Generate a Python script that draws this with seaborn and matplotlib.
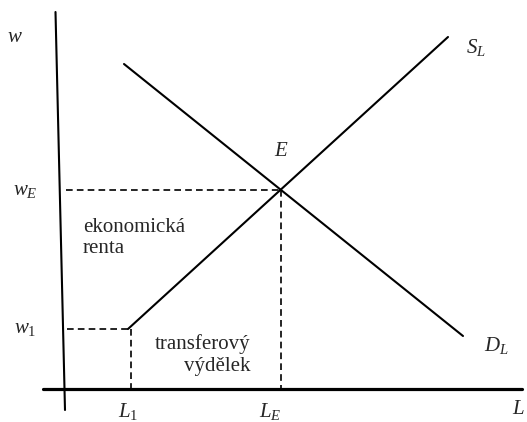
import matplotlib
matplotlib.use("Agg")
import matplotlib.pyplot as plt
import seaborn as sns

sns.set_theme(style="white")
plt.rcParams['font.family'] = ['Liberation Serif', 'DejaVu Serif']
plt.rcParams['mathtext.fontset'] = 'custom'
plt.rcParams['mathtext.rm'] = 'Liberation Serif'
plt.rcParams['mathtext.it'] = 'Liberation Serif:italic'

# Diagram data (abstract units: L = labour quantity, w = wage)
h_axis_L = [-19, 460]
h_axis_w = [0, 0]
v_axis_L = [-6.5, 3]
v_axis_w = [377, -21]
supply_L = [66, 386]
supply_w = [60, 352]
demand_L = [62, 401]
demand_w = [325, 53]
L_E, w_E = 219, 199
L_1, w_1 = 69, 60

fig = plt.figure(figsize=(5.27, 4.22), dpi=100)
ax = fig.add_axes([0, 0, 1, 1])
ax.set_xlim(-62, 465)
ax.set_ylim(-33, 389)
ax.axis("off")

def line(xs, ys, lw, dashed=False):
    ls = (0, (4, 2.5)) if dashed else "-"
    sns.lineplot(x=xs, y=ys, ax=ax, color="black", linewidth=lw,
                 sort=False, estimator=None, linestyle=ls)

line(h_axis_L, h_axis_w, 2.3)
line(v_axis_L, v_axis_w, 1.5)
line(supply_L, supply_w, 1.5)
line(demand_L, demand_w, 1.5)
line([4, L_E], [w_E, w_E], 1.2, dashed=True)
line([L_E, L_E], [w_E, 0], 1.2, dashed=True)
line([5, supply_L[0]], [w_1, w_1], 1.2, dashed=True)
line([L_1, L_1], [w_1, 0], 1.2, dashed=True)

fs = 15
ax.text(-47, 352, r"$w$", fontsize=fs, ha="center", va="center")
ax.text(-37, w_E, r"$w_E$", fontsize=fs, ha="center", va="center")
ax.text(-37, w_1, r"$w_1$", fontsize=fs, ha="center", va="center")
ax.text(L_E, 238, r"$E$", fontsize=fs, ha="center", va="center")
ax.text(414, 342, r"$S_L$", fontsize=fs, ha="center", va="center")
ax.text(434, 44, r"$D_L$", fontsize=fs, ha="center", va="center")
ax.text(L_1 - 3, -22, r"$L_1$", fontsize=fs, ha="center", va="center")
ax.text(L_E - 11, -22, r"$L_E$", fontsize=fs, ha="center", va="center")
ax.text(456, -20, r"$L$", fontsize=fs, ha="center", va="center")
ax.text(21, 151, "ekonomická\nrenta", fontsize=fs, ha="left", va="center",
        linespacing=1.2)
ax.text(188, 34, "transferový\nvýdělek", fontsize=fs, ha="right", va="center",
        linespacing=1.2, multialignment="right")

fig.savefig("out.png", dpi=100)
